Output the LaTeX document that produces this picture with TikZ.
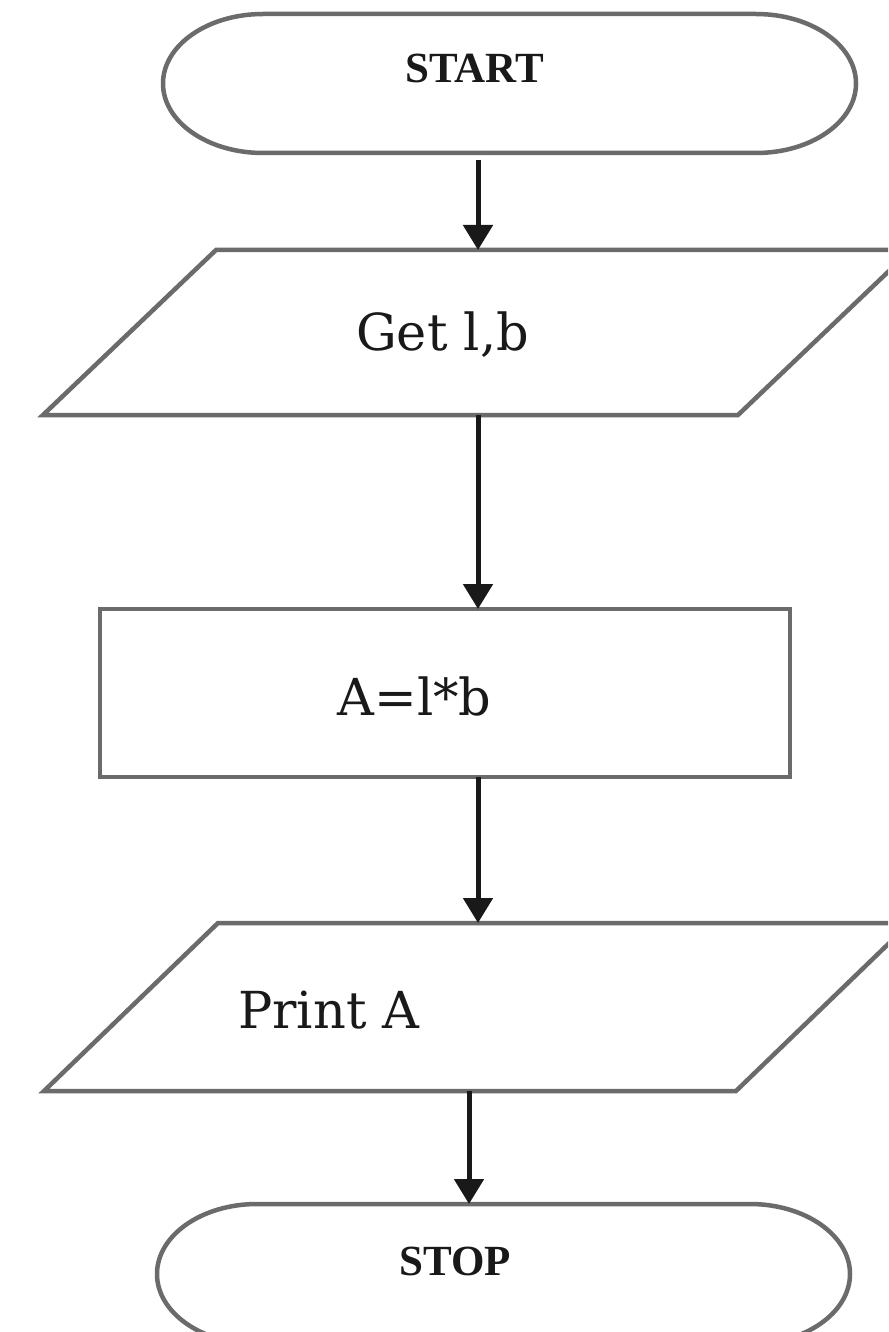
\documentclass[tikz,border=0pt]{standalone}
\usepackage{fontspec}
\setmainfont{DejaVu Serif}
\newfontfamily\termfont{Liberation Serif}
\usetikzlibrary{arrows.meta}
\tikzset{
  outline/.style={draw=black!58, line width=4.5pt, line join=miter},
  flowarrow/.style={draw=black!90, line width=5pt, -{Triangle[width=29pt,length=25pt]}},
  areabox/.style={draw=none, inner sep=0pt, outer sep=0pt},
  termtext/.style={font=\termfont\bfseries\fontsize{43pt}{50pt}\selectfont, text=black!90, anchor=base, inner sep=0pt},
  boxtext/.style={font=\fontsize{51pt}{60pt}\selectfont, text=black!90, anchor=base, inner sep=0pt},
}
\begin{document}
\begin{tikzpicture}[x=1pt,y=-1pt]
\useasboundingbox (0,0) rectangle (888,1332);
\fill[white] (0,0) rectangle (888,1332);
\clip (0,0) rectangle (888,1332);

% areas of the shapes
\node[areabox, minimum width=693pt, minimum height=139pt] (start) at (509.5,83.5) {};
\node[areabox, minimum width=868pt, minimum height=165pt] (get) at (477,332.5) {};
\node[areabox, outline, outer sep=0pt, minimum width=690pt, minimum height=168pt] (calc) at (445,693) {};
\node[areabox, minimum width=866pt, minimum height=168pt] (print) at (477,1007) {};
\node[areabox, minimum width=693pt, minimum height=140pt] (stop) at (503.5,1274) {};

% outlines
\draw[outline] ([xshift=100pt]start.north west) -- ([xshift=-100pt]start.north east)
  arc[start angle=90, end angle=-90, x radius=100pt, y radius=69.5pt]
  -- ([xshift=100pt]start.south west)
  arc[start angle=270, end angle=90, x radius=100pt, y radius=69.5pt] -- cycle;
\draw[outline] ([xshift=173pt]get.north west) -- (get.north east)
  -- ([xshift=-173pt]get.south east) -- (get.south west) -- cycle;
\draw[outline] ([xshift=174pt]print.north west) -- (print.north east)
  -- ([xshift=-174pt]print.south east) -- (print.south west) -- cycle;
\draw[outline] ([xshift=100pt]stop.north west) -- ([xshift=-100pt]stop.north east)
  arc[start angle=90, end angle=-90, x radius=100pt, y radius=70pt]
  -- ([xshift=100pt]stop.south west)
  arc[start angle=270, end angle=90, x radius=100pt, y radius=70pt] -- cycle;

% columns of the connectors
\coordinate (colA) at (478,0);
\coordinate (colB) at (469,0);

% connectors
\draw[flowarrow, shorten <=7pt] (start.south -| colA) -- (get.north -| colA);
\draw[flowarrow] (get.south -| colA) -- (calc.north -| colA);
\draw[flowarrow] (calc.south -| colA) -- (print.north -| colA);
\draw[flowarrow] (print.south -| colB) -- (stop.north -| colB);

% texts
\node[termtext] (tstart) at (474.5,83) {START};
\node[boxtext] (tget) at (442.5,350) {Get l,b};
\node[boxtext] (tcalc) at (414.5,715) {A=l*b};
\node[boxtext, anchor=base west] (tprint) at (238,1028) {Print A};
\node[termtext] (tstop) at (455,1275) {STOP};
\end{tikzpicture}
\end{document}
